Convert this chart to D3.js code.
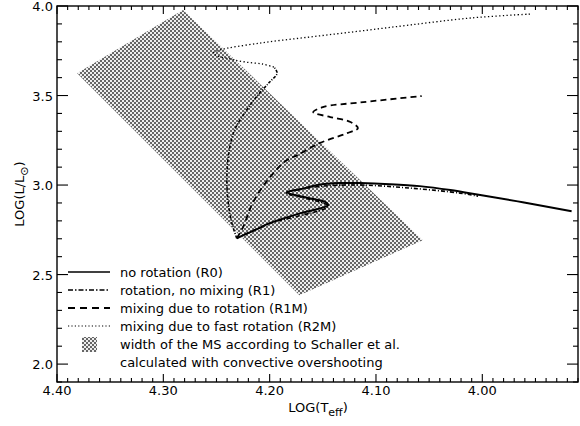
<!DOCTYPE html>
<html>
<head>
<meta charset="utf-8">
<script src="https://cdn.jsdelivr.net/npm/d3@7"></script>
<style>
  body { margin: 0; background: #fff; }
  svg { display: block; font-family: "DejaVu Sans", sans-serif; }
  .axis-line { fill: none; stroke: #000; stroke-width: 1.4; }
  .tick-mark { stroke: #000; stroke-width: 1.1; }
  .tick-label { font-size: 13px; fill: #000; }
  .legend-text { font-size: 13px; fill: #000; }
  .track { fill: none; stroke: #000; stroke-linejoin: round; }
</style>
</head>
<body>
<svg id="chart" width="580" height="426"></svg>
<script>
// log Teff, log L
const r0Teff = [4.231, 4.214, 4.200, 4.171, 4.145, 4.147, 4.167, 4.184, 4.171, 4.155, 4.134, 4.115, 4.087, 4.059, 4.030, 4.002, 3.962, 3.916];
const r0L    = [2.703, 2.748, 2.787, 2.843, 2.888, 2.904, 2.932, 2.960, 2.977, 3.000, 3.011, 3.011, 3.005, 2.994, 2.972, 2.944, 2.904, 2.854];

const r1Teff = [4.231, 4.200, 4.145, 4.165, 4.184, 4.155, 4.115, 4.068, 4.021, 4.004];
const r1L    = [2.703, 2.784, 2.882, 2.925, 2.955, 2.991, 3.000, 2.983, 2.955, 2.938];

const r1mTeff = [4.231, 4.225, 4.216, 4.202, 4.184, 4.174, 4.153, 4.127, 4.117, 4.124, 4.143, 4.159, 4.150, 4.112, 4.057];
const r1mL    = [2.703, 2.765, 2.899, 3.027, 3.139, 3.167, 3.234, 3.290, 3.318, 3.352, 3.380, 3.407, 3.435, 3.463, 3.497];

const r2mTeff = [4.231, 4.235, 4.238, 4.240, 4.240, 4.238, 4.233, 4.223, 4.211, 4.200, 4.193, 4.196, 4.207, 4.223, 4.237, 4.249, 4.253, 4.247, 4.209, 4.162, 4.115, 4.068, 4.011, 3.955];
const r2mL    = [2.703, 2.776, 2.860, 2.972, 3.083, 3.195, 3.307, 3.407, 3.503, 3.575, 3.625, 3.659, 3.676, 3.687, 3.704, 3.721, 3.737, 3.754, 3.793, 3.827, 3.860, 3.894, 3.933, 3.955];
const r2mMsEnd = 11; // main-sequence part is drawn heavier

// main sequence width (Schaller et al.)
const msTeff = [4.381, 4.2815, 4.056, 4.172];
const msL    = [3.625, 3.978, 2.692, 2.385];

const xTicks = [4.40, 4.30, 4.20, 4.10, 4.00];
const yTicks = [2.0, 2.5, 3.0, 3.5, 4.0];

const legendLabels = [
  "no rotation (R0)",
  "rotation, no mixing (R1)",
  "mixing due to rotation (R1M)",
  "mixing due to fast rotation (R2M)",
  "width of the MS according to Schaller et al.",
  "calculated with convective overshooting"
];

const svg = d3.select("#chart");
const plotL = 57, plotR = 578, plotT = 6, plotB = 382;

const x = d3.scaleLinear().domain([4.40, 3.91]).range([plotL, plotR]);
const y = d3.scaleLinear().domain([1.9, 4.0]).range([plotB, plotT]);

// halftone pattern for the MS band
const defs = svg.append("defs");
const pat = defs.append("pattern")
  .attr("id", "dots")
  .attr("patternUnits", "userSpaceOnUse")
  .attr("width", 4).attr("height", 4);
pat.append("rect").attr("width", 4).attr("height", 4).attr("fill", "#eeeeee");
pat.append("rect").attr("width", 2).attr("height", 2).attr("fill", "#666666");
pat.append("rect").attr("x", 2).attr("y", 2).attr("width", 2).attr("height", 2).attr("fill", "#666666");

const toPts = (tx, ly) => tx.map((t, i) => [x(t), y(ly[i])]);

svg.append("polygon")
  .attr("points", toPts(msTeff, msL).map(p => p.join(",")).join(" "))
  .attr("fill", "url(#dots)");

const line = d3.line().curve(d3.curveCatmullRom.alpha(0.5));

// R1 first so R0 sits on top
svg.append("path").attr("class", "track")
  .attr("d", line(toPts(r1Teff, r1L)))
  .attr("stroke-width", 1.6)
  .attr("stroke-dasharray", "4,2,1,2");

svg.append("path").attr("class", "track")
  .attr("d", line(toPts(r0Teff, r0L)))
  .attr("stroke-width", 2);

svg.append("path").attr("class", "track")
  .attr("d", line(toPts(r1mTeff, r1mL)))
  .attr("stroke-width", 1.8)
  .attr("stroke-dasharray", "6,4");

const r2mPts = toPts(r2mTeff, r2mL);
svg.append("path").attr("class", "track")
  .attr("d", line(r2mPts.slice(0, r2mMsEnd + 1)))
  .attr("stroke-width", 1.6)
  .attr("stroke-dasharray", "3,1.5,1,1.5");
svg.append("path").attr("class", "track")
  .attr("d", line(r2mPts.slice(r2mMsEnd)))
  .attr("stroke-width", 1.3)
  .attr("stroke-dasharray", "1.3,2.4");

// frame
svg.append("rect").attr("class", "axis-line")
  .attr("x", plotL).attr("y", plotT)
  .attr("width", plotR - plotL).attr("height", plotB - plotT);

// x ticks: minor every 0.01
const xMinor = d3.range(0, 50).map(i => 4.40 - i * 0.01);
xMinor.forEach(v => {
  const major = Math.abs(Math.round(v * 10) - v * 10) < 1e-6;
  const len = major ? 8 : 4;
  const px = x(v);
  if (px > plotR) return;
  svg.append("line").attr("class", "tick-mark")
    .attr("x1", px).attr("x2", px).attr("y1", plotB).attr("y2", plotB - len);
  svg.append("line").attr("class", "tick-mark")
    .attr("x1", px).attr("x2", px).attr("y1", plotT).attr("y2", plotT + len);
});
xTicks.forEach(v => {
  svg.append("text").attr("class", "tick-label")
    .attr("x", x(v)).attr("y", plotB + 13)
    .attr("text-anchor", "middle")
    .text(d3.format(".2f")(v));
});

// y ticks: minor every 0.1
const yMinor = d3.range(0, 22).map(i => 1.9 + i * 0.1);
yMinor.forEach(v => {
  const major = Math.abs(Math.round(v * 2) - v * 2) < 1e-6;
  const len = major ? 11 : 5;
  const py = y(v);
  svg.append("line").attr("class", "tick-mark")
    .attr("x1", plotL).attr("x2", plotL + len).attr("y1", py).attr("y2", py);
  svg.append("line").attr("class", "tick-mark")
    .attr("x1", plotR).attr("x2", plotR - len).attr("y1", py).attr("y2", py);
});
yTicks.forEach(v => {
  svg.append("text").attr("class", "tick-label")
    .attr("x", plotL - 4).attr("y", y(v) + 5)
    .attr("text-anchor", "end")
    .text(d3.format(".1f")(v));
});

// axis titles
const xt = svg.append("text").attr("class", "tick-label")
  .attr("x", 318).attr("y", 412).attr("text-anchor", "middle");
xt.append("tspan").text("LOG(T");
xt.append("tspan").attr("font-size", 11).attr("dy", 4).text("eff");
xt.append("tspan").attr("dy", -4).text(")");

const yt = svg.append("text").attr("class", "tick-label")
  .attr("transform", "translate(24,194) rotate(-90)")
  .attr("text-anchor", "middle");
yt.append("tspan").text("LOG(L/L");
yt.append("tspan").attr("font-size", 11).attr("dy", 4).text("\u2299");
yt.append("tspan").attr("dy", -4).text(")");

// legend
const legX0 = 68, legX1 = 110, legText = 120, legY0 = 272, legStep = 18;
const legendStyles = [
  { w: 1.6, dash: null },
  { w: 1.6, dash: "5,2,1.5,2" },
  { w: 1.8, dash: "7,5" },
  { w: 1.1, dash: "1.2,2.2" }
];
legendStyles.forEach((s, i) => {
  const ly = legY0 + i * legStep;
  const l = svg.append("line").attr("class", "track")
    .attr("x1", legX0).attr("x2", legX1).attr("y1", ly).attr("y2", ly)
    .attr("stroke-width", s.w);
  if (s.dash) l.attr("stroke-dasharray", s.dash);
});
svg.append("rect")
  .attr("x", 82).attr("y", legY0 + 4 * legStep - 7)
  .attr("width", 15).attr("height", 15)
  .attr("fill", "url(#dots)");
legendLabels.forEach((t, i) => {
  svg.append("text").attr("class", "legend-text")
    .attr("x", legText).attr("y", legY0 + i * legStep + 5)
    .text(t);
});
</script>
</body>
</html>
